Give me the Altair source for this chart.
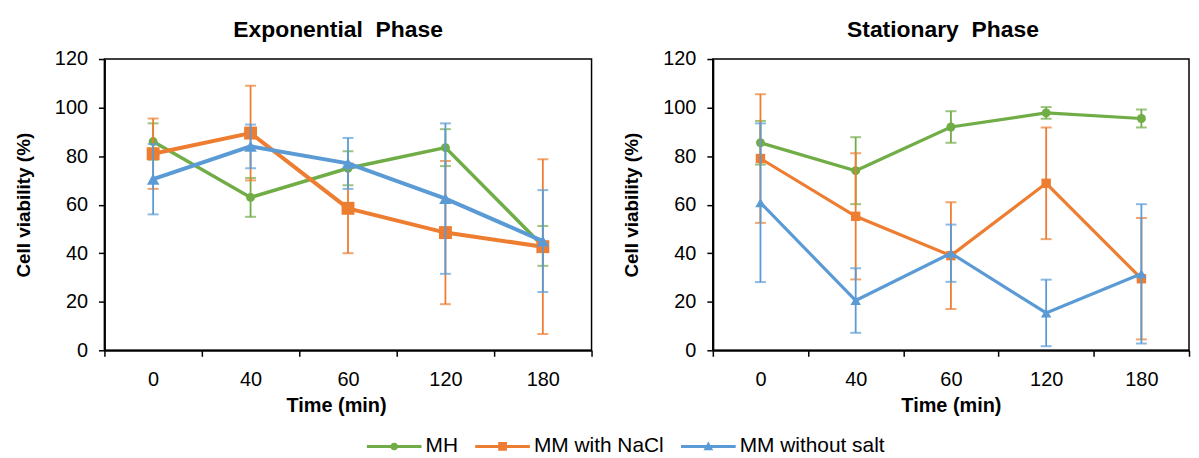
import altair as alt
import pandas as pd

FONT = "Liberation Sans"

times = ["0", "40", "60", "120", "180"]
series_names = ["MH", "MM with NaCl", "MM without salt"]
colors = ["#70AD47", "#ED7D31", "#5B9BD5"]

# Exponential phase
exp_mh = [86, 63, 75, 83.5, 43]
exp_mh_err = [7.5, 8, 7, 7.6, 8.2]
exp_nacl = [81, 89.5, 58.5, 48.5, 42.7]
exp_nacl_err = [14.5, 19.5, 18.5, 29.5, 36]
exp_nosalt = [70.5, 84, 77, 62.5, 45]
exp_nosalt_err = [14.5, 9, 10.5, 31, 21]

# Stationary phase
sta_mh = [85.5, 74, 92, 97.8, 95.5]
sta_mh_err = [9, 13.8, 6.5, 2.4, 3.7]
sta_nacl = [79, 55.2, 39, 68.8, 29.5]
sta_nacl_err = [26.5, 26, 22, 23, 25]
sta_nosalt = [60.8, 20.5, 40, 15.4, 31.5]
sta_nosalt_err = [32.7, 13.3, 11.8, 13.7, 28.7]


def make_df(vals, errs):
    rows = []
    for s, v, e in zip(series_names, vals, errs):
        for t, vv, ee in zip(times, v, e):
            rows.append({"series": s, "time": t, "value": vv, "err": ee,
                         "lo": vv - ee, "hi": vv + ee})
    return pd.DataFrame(rows)


df_exp = make_df([exp_mh, exp_nacl, exp_nosalt], [exp_mh_err, exp_nacl_err, exp_nosalt_err])
df_sta = make_df([sta_mh, sta_nacl, sta_nosalt], [sta_mh_err, sta_nacl_err, sta_nosalt_err])

color_scale = alt.Scale(domain=series_names, range=colors)

y_axis = alt.Axis(title="Cell viability (%)", values=[0, 20, 40, 60, 80, 100, 120],
                  labelPadding=11, titlePadding=21)

y_scale = alt.Scale(domain=[0, 120], nice=False)


def make_x_axis(title_x=None):
    kw = dict(title="Time (min)", tickBand="extent", labelAngle=0,
              labelPadding=13, titlePadding=7, titleFontSize=20)
    if title_x is not None:
        kw["titleX"] = title_x
    return alt.Axis(**kw)


# legend symbols: a line segment with the series marker on it
legend_paths = [
    "M-1,-0.055H1V0.055H-1Z M0.14,0 A0.14,0.14 0 1 1 -0.14,0 A0.14,0.14 0 1 1 0.14,0Z",
    "M-1,-0.055H1V0.055H-1Z M-0.16,-0.16H0.16V0.16H-0.16Z",
    "M-1,-0.055H1V0.055H-1Z M0,-0.18L0.18,0.14L-0.18,0.14Z",
]

legend = alt.Legend(
    orient="none", legendX=264, legendY=362, direction="horizontal", title=None,
    symbolSize=3025, labelFontSize=21, labelFont=FONT, labelColor="black",
    columnPadding=17, labelOffset=4, symbolStrokeWidth=0, symbolOpacity=1,
)

shapes = {"MH": "circle", "MM with NaCl": "square", "MM without salt": "triangle-up"}


def panel(df, title, width, title_dx, x_axis, line_w, marker_size, with_legend):
    def x_enc():
        return alt.X("time:N", sort=times,
                     scale=alt.Scale(domain=times, paddingInner=0, paddingOuter=0),
                     axis=x_axis)

    layers = []
    if with_legend:
        # invisible layer that only carries the legend (line + marker symbols)
        leg_layer = alt.Chart(df).mark_point(filled=True, opacity=0, size=10).encode(
            x=x_enc(), y=alt.Y("value:Q", scale=y_scale, axis=y_axis),
            color=alt.Color("series:N", scale=color_scale, legend=legend),
            shape=alt.Shape("series:N", scale=alt.Scale(domain=series_names, range=legend_paths),
                            legend=legend),
        )
        layers.append(leg_layer)
    for s in series_names:
        base = alt.Chart(df).transform_filter(alt.datum.series == s)
        col_n = alt.Color("series:N", scale=color_scale, legend=None)
        line = base.mark_line(strokeWidth=line_w[s]).encode(
            x=x_enc(), y=alt.Y("value:Q", scale=y_scale, axis=y_axis), color=col_n)
        rule = base.mark_rule(strokeWidth=1.8).encode(
            x=x_enc(), y=alt.Y("lo:Q", scale=y_scale, axis=y_axis), y2="hi:Q", color=col_n)
        cap_lo = base.mark_tick(thickness=2, size=11).encode(
            x=x_enc(), y=alt.Y("lo:Q", scale=y_scale, axis=y_axis), color=col_n)
        cap_hi = base.mark_tick(thickness=2, size=11).encode(
            x=x_enc(), y=alt.Y("hi:Q", scale=y_scale, axis=y_axis), color=col_n)
        pts = base.mark_point(filled=True, opacity=1, shape=shapes[s],
                              size=marker_size[s]).encode(
            x=x_enc(), y=alt.Y("value:Q", scale=y_scale, axis=y_axis), color=col_n)
        layers += [line, rule, cap_lo, cap_hi, pts]
    return alt.layer(*layers).properties(
        width=width, height=293,
        title=alt.TitleParams(title, fontSize=23, fontWeight="bold", font=FONT,
                              color="black", offset=7, anchor="middle", dx=title_dx),
    )


left = panel(df_exp, "Exponential\u00a0 Phase", 490, -10, make_x_axis(233),
             {"MH": 3.5, "MM with NaCl": 4, "MM without salt": 4},
             {"MH": 81, "MM with NaCl": 169, "MM without salt": 160}, True)
right = panel(df_sta, "Stationary\u00a0 Phase", 479, -8, make_x_axis(),
              {"MH": 3.2, "MM with NaCl": 3.2, "MM without salt": 3.2},
              {"MH": 81, "MM with NaCl": 90, "MM without salt": 110}, False)

chart = alt.hconcat(left, right, spacing=28).resolve_scale(color="shared").properties(
    padding={"left": 5, "top": 9, "right": 0, "bottom": 0}
).configure_view(
    stroke="black", strokeWidth=1.5
).configure_axis(
    grid=False, domainColor="black", domainWidth=2, tickColor="black", tickWidth=1.5,
    tickSize=6, labelFont=FONT, labelFontSize=20, labelColor="black",
    titleFont=FONT, titleFontSize=19, titleFontWeight="bold", titleColor="black",
)

chart.save("out.html", embed_options={"renderer": "svg", "actions": False})
